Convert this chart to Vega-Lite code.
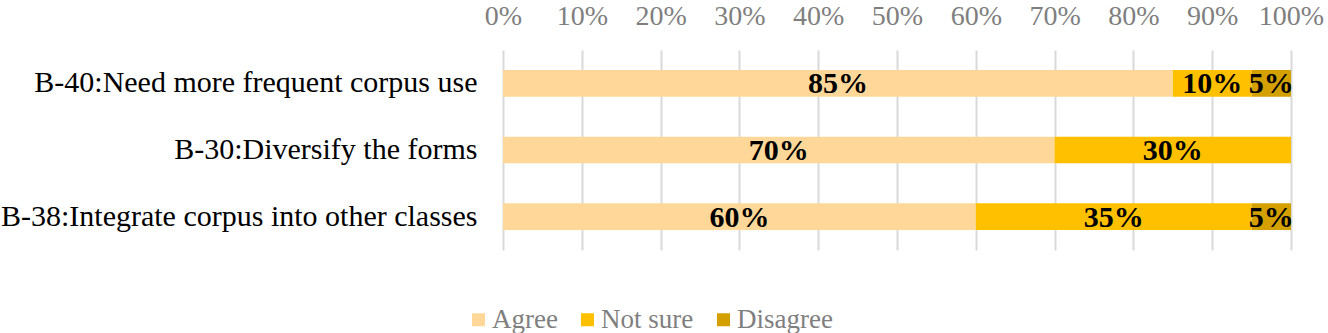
{
  "$schema": "https://vega.github.io/schema/vega-lite/v6.json",
  "autosize": {"type": "none"},
  "width": 788,
  "height": 200,
  "padding": {"left": 503, "top": 50, "right": 37, "bottom": 83},
  "background": "white",
  "data": {
    "values": [
      {"item": "B-40:Need more frequent corpus use", "response": "Agree", "k": 1, "value": 0.85},
      {"item": "B-40:Need more frequent corpus use", "response": "Not sure", "k": 2, "value": 0.10},
      {"item": "B-40:Need more frequent corpus use", "response": "Disagree", "k": 3, "value": 0.05},
      {"item": "B-30:Diversify the forms", "response": "Agree", "k": 1, "value": 0.70},
      {"item": "B-30:Diversify the forms", "response": "Not sure", "k": 2, "value": 0.30},
      {"item": "B-38:Integrate corpus into other classes", "response": "Agree", "k": 1, "value": 0.60},
      {"item": "B-38:Integrate corpus into other classes", "response": "Not sure", "k": 2, "value": 0.35},
      {"item": "B-38:Integrate corpus into other classes", "response": "Disagree", "k": 3, "value": 0.05}
    ]
  },
  "transform": [
    {"stack": "value", "groupby": ["item"], "sort": [{"field": "k", "order": "ascending"}], "as": ["x0", "x1"]},
    {"calculate": "(datum.x0 + datum.x1) / 2", "as": "xm"}
  ],
  "config": {
    "font": "Liberation Serif",
    "view": {"stroke": null}
  },
  "encoding": {
    "y": {
      "field": "item", "type": "nominal", "sort": null, "title": null,
      "scale": {"paddingInner": 0.6, "paddingOuter": 0.3},
      "axis": {"domain": false, "ticks": false, "labelFontSize": 30, "labelColor": "#000000", "labelPadding": 26, "labelLimit": 700}
    }
  },
  "layer": [
    {
      "mark": {"type": "bar"},
      "encoding": {
        "x": {
          "field": "x0", "type": "quantitative", "title": null,
          "scale": {"domain": [0, 1], "nice": false},
          "axis": {
            "orient": "top", "values": [0,0.1,0.2,0.3,0.4,0.5,0.6,0.7,0.8,0.9,1],
            "format": ".0%", "labelOverlap": false, "labelFlush": false, "labelBound": false,
            "domain": false, "ticks": false, "grid": true, "gridColor": "#D9D9D9", "gridWidth": 2,
            "labelFontSize": 28, "labelColor": "#7F7F7F", "labelPadding": 20
          }
        },
        "x2": {"field": "x1"},
        "color": {
          "field": "response", "type": "nominal",
          "scale": {"domain": ["Agree", "Not sure", "Disagree"], "range": ["#FFD899", "#FFC000", "#D4A000"]},
          "legend": {
            "title": null, "orient": "none", "direction": "horizontal",
            "legendX": -38, "legendY": 256,
            "symbolType": "square", "symbolSize": 169, "symbolStrokeWidth": 0,
            "labelFontSize": 27, "labelColor": "#7F7F7F", "labelOffset": 0, "columnPadding": 16
          }
        }
      }
    },
    {
      "mark": {"type": "text", "fontWeight": "bold", "fontSize": 30, "color": "#000000", "baseline": "middle", "dy": 1},
      "encoding": {
        "x": {"field": "xm", "type": "quantitative"},
        "text": {"field": "value", "type": "quantitative", "format": ".0%"},
        "detail": {"field": "response"}
      }
    }
  ]
}
